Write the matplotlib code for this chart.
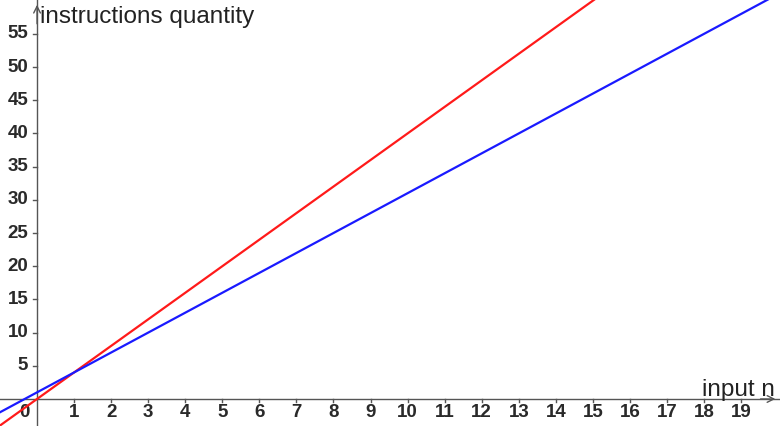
import numpy as np
import matplotlib.pyplot as plt

# funciones: instrucciones = pendiente * n + constante
names = ["4n", "3n+1"]
slopes = [4, 3]
intercepts = [0, 1]
colors = ["#ff1a1a", "#1a1aff"]

x_ticks = list(range(1, 20))
y_ticks = list(range(5, 60, 5))
x_label = "input n"
y_label = "instructions quantity"

xmin, xmax = -1.0, 20.05
ymin, ymax = -4.07, 60.1

fig = plt.figure(figsize=(7.8, 4.26), dpi=100)
ax = fig.add_axes([0, 0, 1, 1])
ax.set_xlim(xmin, xmax)
ax.set_ylim(ymin, ymax)
ax.axis("off")

axis_color = "#555555"
tick_color = "#2a2a2a"

# ejes
ax.plot([xmin, xmax], [0, 0], color=axis_color, lw=1.0, zorder=1)
ax.plot([0, 0], [ymin, ymax], color=axis_color, lw=1.0, zorder=1)
ax.annotate("", xy=(xmax - 0.05, 0), xytext=(xmax - 0.6, 0),
            arrowprops=dict(arrowstyle="->", color=axis_color, lw=1.0, mutation_scale=12))
ax.annotate("", xy=(0, ymax - 0.3), xytext=(0, ymax - 4),
            arrowprops=dict(arrowstyle="->", color=axis_color, lw=1.0, mutation_scale=12))

# marcas y etiquetas
for t in x_ticks:
    ax.plot([t, t], [0, -0.5], color=axis_color, lw=1.0)
    ax.text(t, -0.8, str(t), ha="center", va="top", fontsize=13.5, fontweight="bold",
            family="Liberation Sans", color=tick_color)
for t in y_ticks:
    ax.plot([0, -0.1], [t, t], color=axis_color, lw=1.0)
    ax.text(-0.24, t, str(t), ha="right", va="center", fontsize=13.5, fontweight="bold",
            family="Liberation Sans", color=tick_color)
ax.text(-0.35, -2.05, "0", ha="center", va="center", fontsize=13.5, fontweight="bold",
        family="Liberation Sans", color=tick_color)

ax.text(xmax - 0.15, 0.45, x_label, ha="right", va="baseline", fontsize=17.5,
        family="Liberation Sans", color="#222222")
ax.text(0.08, ymax - 3.4, y_label, ha="left", va="baseline", fontsize=17.5,
        family="Liberation Sans", color="#222222")

# rectas
n = np.array([xmin, xmax])
for name, m, b, c in zip(names, slopes, intercepts, colors):
    ax.plot(n, m * n + b, color=c, lw=1.6, label=name, zorder=3)

fig.savefig("out.png", dpi=100)
